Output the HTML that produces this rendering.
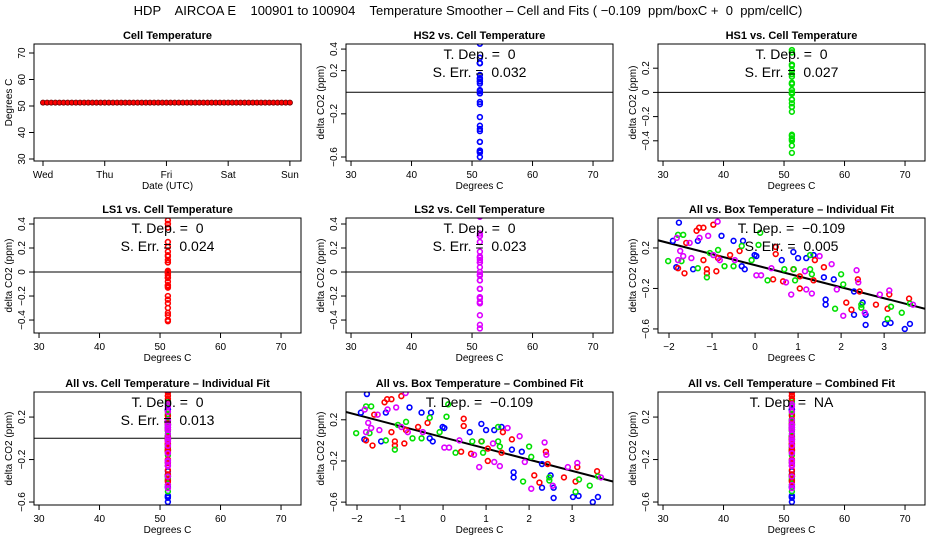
<!DOCTYPE html>
<html><head><meta charset="utf-8"><style>
body{margin:0;background:#fff;}
svg{display:block;font-family:"Liberation Sans",sans-serif;}
svg text{white-space:pre;}
</style></head><body>
<svg id="c" width="936" height="540" viewBox="0 0 936 540"></svg>
<script>
// ---- data ----
const cellTemps=[51.3,51.3,51.3,51.3,51.3,51.3,51.3,51.3,51.3,51.3,51.3,51.3,51.3,51.3,51.3,51.3,51.3,51.3,51.3,51.3,51.3,51.3,51.3,51.3,51.3,51.3,51.3,51.3,51.3,51.3,51.3,51.3,51.3,51.3,51.3,51.3,51.3,51.3,51.3,51.3,51.3,51.3,51.3,51.3,51.3,51.3,51.3,51.3,51.3,51.3,51.3,51.3,51.3,51.3,51.3,51.3,51.3,51.3,51.3,51.3,51.3];
const dayLabels=["Wed","Thu","Fri","Sat","Sun"];
const cellTempValue=51.3;
const blueX=[-1.77,-1.91,-1.83,-1.44,-1.33,-0.78,-0.5,-0.28,-0.24,-0.31,-0.01,0.03,0.62,0.89,1.0,1.19,1.36,1.6,1.64,1.64,1.83,2.3,2.3,2.5,2.57,2.57,3.02,3.15,3.48,3.6];
const blueY=[0.45,0.27,0.01,-0.01,0.27,0.32,0.27,0.27,-0.01,0.02,0.13,0.12,0.08,0.16,0.1,0.1,0.13,-0.09,-0.31,-0.36,-0.11,-0.23,-0.46,-0.34,-0.56,-0.46,-0.55,-0.54,-0.6,-0.55];
const redX=[-1.3,-1.2,-0.97,-1.36,-1.6,-1.79,-1.64,-1.2,-1.12,-1.12,-0.9,-0.86,-0.58,-0.36,0.48,0.48,0.42,0.65,0.89,1.04,1.04,1.39,1.36,1.6,2.12,2.24,2.39,2.43,2.81,3.08,3.12,3.58];
const redY=[0.4,0.4,0.43,0.37,0.25,0.0,-0.05,0.08,-0.01,-0.05,-0.03,0.1,0.13,0.17,0.21,0.14,-0.11,-0.13,-0.01,-0.08,-0.2,0.08,-0.12,0.01,-0.34,-0.41,-0.11,-0.23,-0.36,-0.4,-0.26,-0.3];
const greenX=[-2.02,-1.79,-1.67,-1.71,-1.33,-1.12,-1.05,-0.86,-0.71,-0.5,-0.31,-0.08,0.08,0.12,0.29,0.68,0.9,0.93,1.28,1.28,1.32,2.0,2.05,1.86,2.47,2.47,3.08,3.16,3.41,3.6];
const greenY=[0.07,0.33,0.33,0.07,0.0,-0.09,0.15,0.18,0.02,0.02,0.22,0.08,0.23,0.35,-0.12,-0.01,-0.01,-0.12,0.13,-0.01,-0.06,-0.06,-0.16,-0.4,-0.36,-0.39,-0.5,-0.38,-0.44,-0.35];
const magX=[-1.82,-1.74,-1.79,-1.67,-1.52,-1.48,-1.29,-1.09,-0.87,-0.97,-0.82,-0.47,0.03,0.14,0.38,0.72,0.84,1.16,1.19,1.32,1.5,1.78,1.9,2.05,2.36,2.4,2.55,2.9,3.12,3.67];
const magY=[0.3,0.17,0.08,0.12,0.25,0.1,0.3,0.32,0.46,0.13,0.08,0.08,-0.07,-0.07,0.0,-0.14,-0.26,-0.03,-0.21,-0.25,0.12,0.04,-0.21,-0.47,-0.02,-0.14,-0.44,-0.26,-0.22,-0.36];
const fitSlope=-0.109;
const fitIntercept=0.03;

const NS="http://www.w3.org/2000/svg";
const svg=document.getElementById('c');
function el(tag,attrs,parent,text){const e=document.createElementNS(NS,tag);for(const k in attrs)e.setAttribute(k,attrs[k]);if(text!==undefined)e.textContent=text;(parent||svg).appendChild(e);return e;}

const t=el('text',{x:468,y:15,'text-anchor':'middle','font-size':13});
t.textContent="HDP    AIRCOA E    100901 to 100904    Temperature Smoother \u2013 Cell and Fits ( \u22120.109  ppm/boxC +  0  ppm/cellC)";



const colX=[34,346,658], W=267;
const rowY=[44,218,392], rowH=[117,115,113];
const colors={blue:"#0000ff",red:"#ff0000",green:"#00e000",mag:"#dd00ff"};

function panel(o){
  const x0=colX[o.c], y0=rowY[o.r], h=rowH[o.r];
  const g=el('g',{});
  
  
  const sx=v=>x0+(v-o.xl[0])/(o.xl[1]-o.xl[0])*W;
  const sy=v=>y0+(o.yl[1]-v)/(o.yl[1]-o.yl[0])*h;
  const tt=el('text',{x:x0+W/2,y:y0-5,'text-anchor':'middle','font-size':11,'font-weight':'bold'},g,o.title);
  
  
  o.xt.forEach((v,i)=>{const X=sx(v);el('line',{x1:X,x2:X,y1:y0+h,y2:y0+h+5,stroke:'#000'},g);
    el('text',{x:X,y:y0+h+17,'text-anchor':'middle','font-size':10},g,o.xtl?o.xtl[i]:String(v).replace('-','\u2212'));});
  o.yt.forEach(v=>{const Y=sy(v);el('line',{x1:x0-5,x2:x0,y1:Y,y2:Y,stroke:'#000'},g);
    el('text',{x:0,y:0,'text-anchor':'middle','font-size':10,transform:`translate(${x0-9},${Y}) rotate(-90)`},g,String(v).replace('-','\u2212'));});
  const xlab=el('text',{x:x0+W/2,y:y0+h+28,'text-anchor':'middle','font-size':10},g,o.xlab);
  
  
  const ylab=el('text',{x:0,y:0,'text-anchor':'middle','font-size':10,transform:`translate(${x0-22},${y0+h/2}) rotate(-90)`},g,o.ylab);
  
  
  const clip='cl'+o.r+o.c;
  const cp=el('clipPath',{id:clip},g);el('rect',{x:x0,y:y0,width:W,height:h},cp);
  const pg=el('g',{'clip-path':`url(#${clip})`},g);
  if(o.hline!==undefined) el('line',{x1:x0,x2:x0+W,y1:sy(o.hline),y2:sy(o.hline),stroke:'#000'},pg);
  if(o.fit){const a=o.xl[0],b=o.xl[1];const ln=el('line',{x1:sx(a),y1:sy(fitIntercept+fitSlope*a),x2:sx(b),y2:sy(fitIntercept+fitSlope*b),stroke:'#000','stroke-width':2},pg);
    }
  o.series.forEach(s=>{s.ys.forEach((yv,i)=>{const xv=s.xs?s.xs[i]:s.xc;
    const p=el('circle',{cx:sx(xv),cy:sy(yv),r:2.4,fill:'none',stroke:colors[s.col],'stroke-width':1.6},pg);
    
    });});
  (o.ann||[]).forEach((a,i)=>{el('text',{x:x0+W/2,y:y0+15+i*18,'text-anchor':'middle','font-size':14},g,a);});
  el('rect',{x:x0,y:y0,width:W,height:h,fill:'none',stroke:'#000'},g);
  return {sx,sy,g};
}

(function(){
  const p=panel({r:0,c:0,name:'cell-temperature-panel',title:'Cell Temperature',xl:[-0.146,4.18],yl:[29.25,73.4],
    xt:[0,1,2,3,4],xtl:dayLabels,yt:[30,40,50,60,70],xlab:'Date (UTC)',ylab:'Degrees C',series:[]});
  cellTemps.forEach((v,i)=>{const d=i*4/(cellTemps.length-1);
    const c=el('circle',{cx:p.sx(d),cy:p.sy(v),r:2.6,fill:'#ff0000',stroke:'#600','stroke-width':0.8},p.g);
    
    });
})();
const cellX=[29.17,73.3];
panel({r:0,c:1,name:'hs2-panel',title:'HS2 vs. Cell Temperature',xl:cellX,yl:[-0.637,0.447],xt:[30,40,50,60,70],yt:[0.4,0.2,-0.2,-0.6],
  xlab:'Degrees C',ylab:'delta CO2 (ppm)',hline:0,ann:['T. Dep. =  0','S. Err. =  0.032'],series:[{col:'blue',xc:cellTempValue,ys:blueY}]});
panel({r:0,c:2,name:'hs1-panel',title:'HS1 vs. Cell Temperature',xl:cellX,yl:[-0.567,0.4],xt:[30,40,50,60,70],yt:[0.2,0,-0.2,-0.4],
  xlab:'Degrees C',ylab:'delta CO2 (ppm)',hline:0,ann:['T. Dep. =  0','S. Err. =  0.027'],series:[{col:'green',xc:cellTempValue,ys:greenY}]});
panel({r:1,c:0,name:'ls1-panel',title:'LS1 vs. Cell Temperature',xl:cellX,yl:[-0.508,0.45],xt:[30,40,50,60,70],yt:[0.4,0.2,0,-0.2,-0.4],
  xlab:'Degrees C',ylab:'delta CO2 (ppm)',hline:0,ann:['T. Dep. =  0','S. Err. =  0.024'],series:[{col:'red',xc:cellTempValue,ys:redY}]});
panel({r:1,c:1,name:'ls2-panel',title:'LS2 vs. Cell Temperature',xl:cellX,yl:[-0.508,0.45],xt:[30,40,50,60,70],yt:[0.4,0.2,0,-0.2,-0.4],
  xlab:'Degrees C',ylab:'delta CO2 (ppm)',hline:0,ann:['T. Dep. =  0','S. Err. =  0.023'],series:[{col:'mag',xc:cellTempValue,ys:magY}]});
const allSeries=[{col:'blue',xs:blueX,ys:blueY},{col:'red',xs:redX,ys:redY},{col:'green',xs:greenX,ys:greenY},{col:'mag',xs:magX,ys:magY}];
panel({r:1,c:2,name:'box-individual-panel',title:'All vs. Box Temperature \u2013 Individual Fit',xl:[-2.256,3.95],yl:[-0.64,0.496],xt:[-2,-1,0,1,2,3],yt:[0.2,-0.2,-0.6],
  xlab:'Degrees C',ylab:'delta CO2 (ppm)',fit:true,ann:['T. Dep. =  \u22120.109','S. Err. =  0.005'],series:allSeries});
const allCell=['blue','green','red','mag'].map((c,i)=>({col:c,xc:cellTempValue,ys:[blueY,greenY,redY,magY][i]}));
panel({r:2,c:0,name:'cell-individual-panel',title:'All vs. Cell Temperature \u2013 Individual Fit',xl:cellX,yl:[-0.628,0.436],xt:[30,40,50,60,70],yt:[0.2,-0.2,-0.6],
  xlab:'Degrees C',ylab:'delta CO2 (ppm)',hline:0,ann:['T. Dep. =  0','S. Err. =  0.013'],series:allCell});
panel({r:2,c:1,name:'box-combined-panel',title:'All vs. Box Temperature \u2013 Combined Fit',xl:[-2.256,3.95],yl:[-0.628,0.47],xt:[-2,-1,0,1,2,3],yt:[0.2,-0.2,-0.6],
  xlab:'Degrees C',ylab:'delta CO2 (ppm)',fit:true,ann:['T. Dep. =  \u22120.109'],series:allSeries});
panel({r:2,c:2,name:'cell-combined-panel',title:'All vs. Cell Temperature \u2013 Combined Fit',xl:cellX,yl:[-0.628,0.436],xt:[30,40,50,60,70],yt:[0.2,-0.2,-0.6],
  xlab:'Degrees C',ylab:'delta CO2 (ppm)',ann:['T. Dep. =  NA'],series:allCell});
</script>
</body></html>
